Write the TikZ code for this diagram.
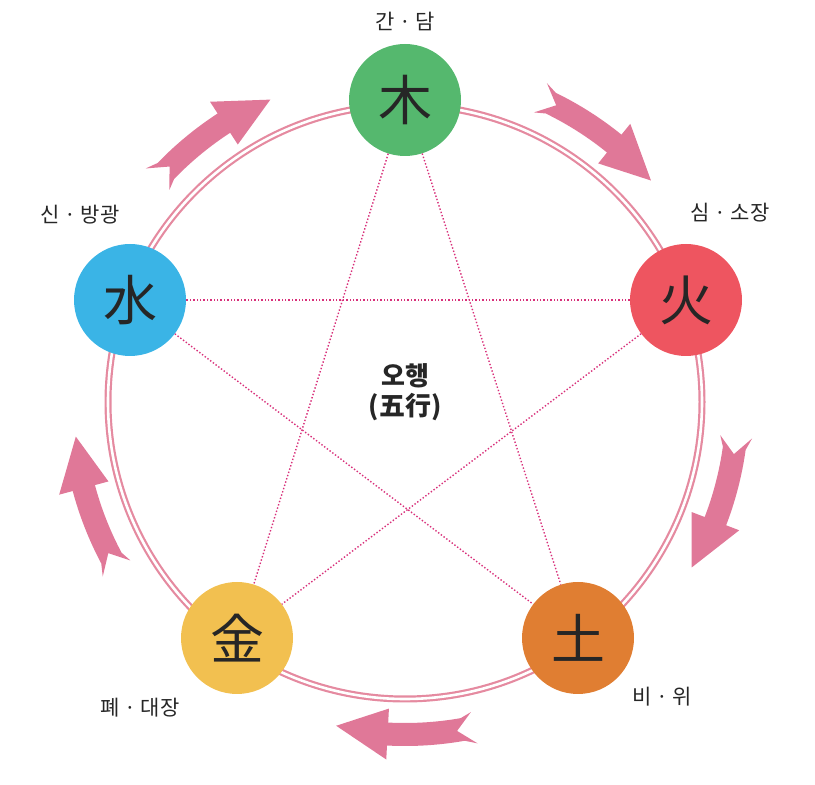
\documentclass[tikz,border=0pt]{standalone}
\usepackage{fontspec}
\setmainfont{Noto Sans CJK KR}
\usetikzlibrary{calc}
\definecolor{pk}{HTML}{E07898}
\definecolor{ring}{HTML}{E58AA0}
\definecolor{dotc}{HTML}{D8307A}
\definecolor{cwood}{HTML}{55B86E}
\definecolor{cfire}{HTML}{EE5560}
\definecolor{cearth}{HTML}{E07E32}
\definecolor{cmetal}{HTML}{F2C050}
\definecolor{cwater}{HTML}{3AB4E6}
\tikzset{
  el/.style={circle,minimum size=112pt,inner sep=0pt,font=\fontsize{54}{54}\selectfont,text=black!85},
  lab/.style={font=\fontsize{21}{21}\selectfont,text=black!85},
  star/.style={dotc,dotted,line width=1.4pt}
}
\begin{document}
\begin{tikzpicture}[x=1pt,y=1pt]
\useasboundingbox (0,0) rectangle (815,785);
\coordinate (C) at (405,383);
\draw[ring,line width=7pt] (C) circle[radius=297];
\draw[white,line width=2.6pt] (C) circle[radius=297];
\foreach \a in {54,-18,-90,-162,126}{
  \pgfmathsetmacro{\r}{332}
  \fill[pk] ($(C)+(\a+12:\r+17)$) -- ($(C)+(\a+10:\r+12)$)
    arc[start angle=\a+10,end angle=\a-3,radius=\r+12]
    -- ($(C)+(\a-3:\r+26)$) -- ($(C)+(\a-12:\r-1)$) -- ($(C)+(\a-3:\r-25)$)
    -- ($(C)+(\a-3:\r-11)$)
    arc[start angle=\a-3,end angle=\a+10,radius=\r-11]
    -- ($(C)+(\a+12:\r-15)$) -- ($(C)+(\a+9:\r+1)$) -- cycle;
}
\node[el,fill=cwood] (wood) at (405,685) {木};
\node[el,fill=cfire] (fire) at (686,485) {火};
\node[el,fill=cearth] (earth) at (578,147) {土};
\node[el,fill=cmetal] (metal) at (237,147) {金};
\node[el,fill=cwater] (water) at (130,485) {水};
\draw[star] (wood) -- (earth);
\draw[star] (wood) -- (metal);
\draw[star] (fire) -- (water);
\draw[star] (fire) -- (metal);
\draw[star] (water) -- (earth);
\node[lab] (lw) at (405,763) {간 · 담};
\node[lab] (lf) at (730,572) {심 · 소장};
\node[lab] (le) at (662,88) {비 · 위};
\node[lab] (lm) at (140,77) {폐 · 대장};
\node[lab] (lwa) at (80,570) {신 · 방광};
\node[font=\fontsize{26}{26}\selectfont\bfseries,text=black!85,align=center] (ctr) at (405,393) {오행\\[4pt](五行)};
\end{tikzpicture}
\end{document}
